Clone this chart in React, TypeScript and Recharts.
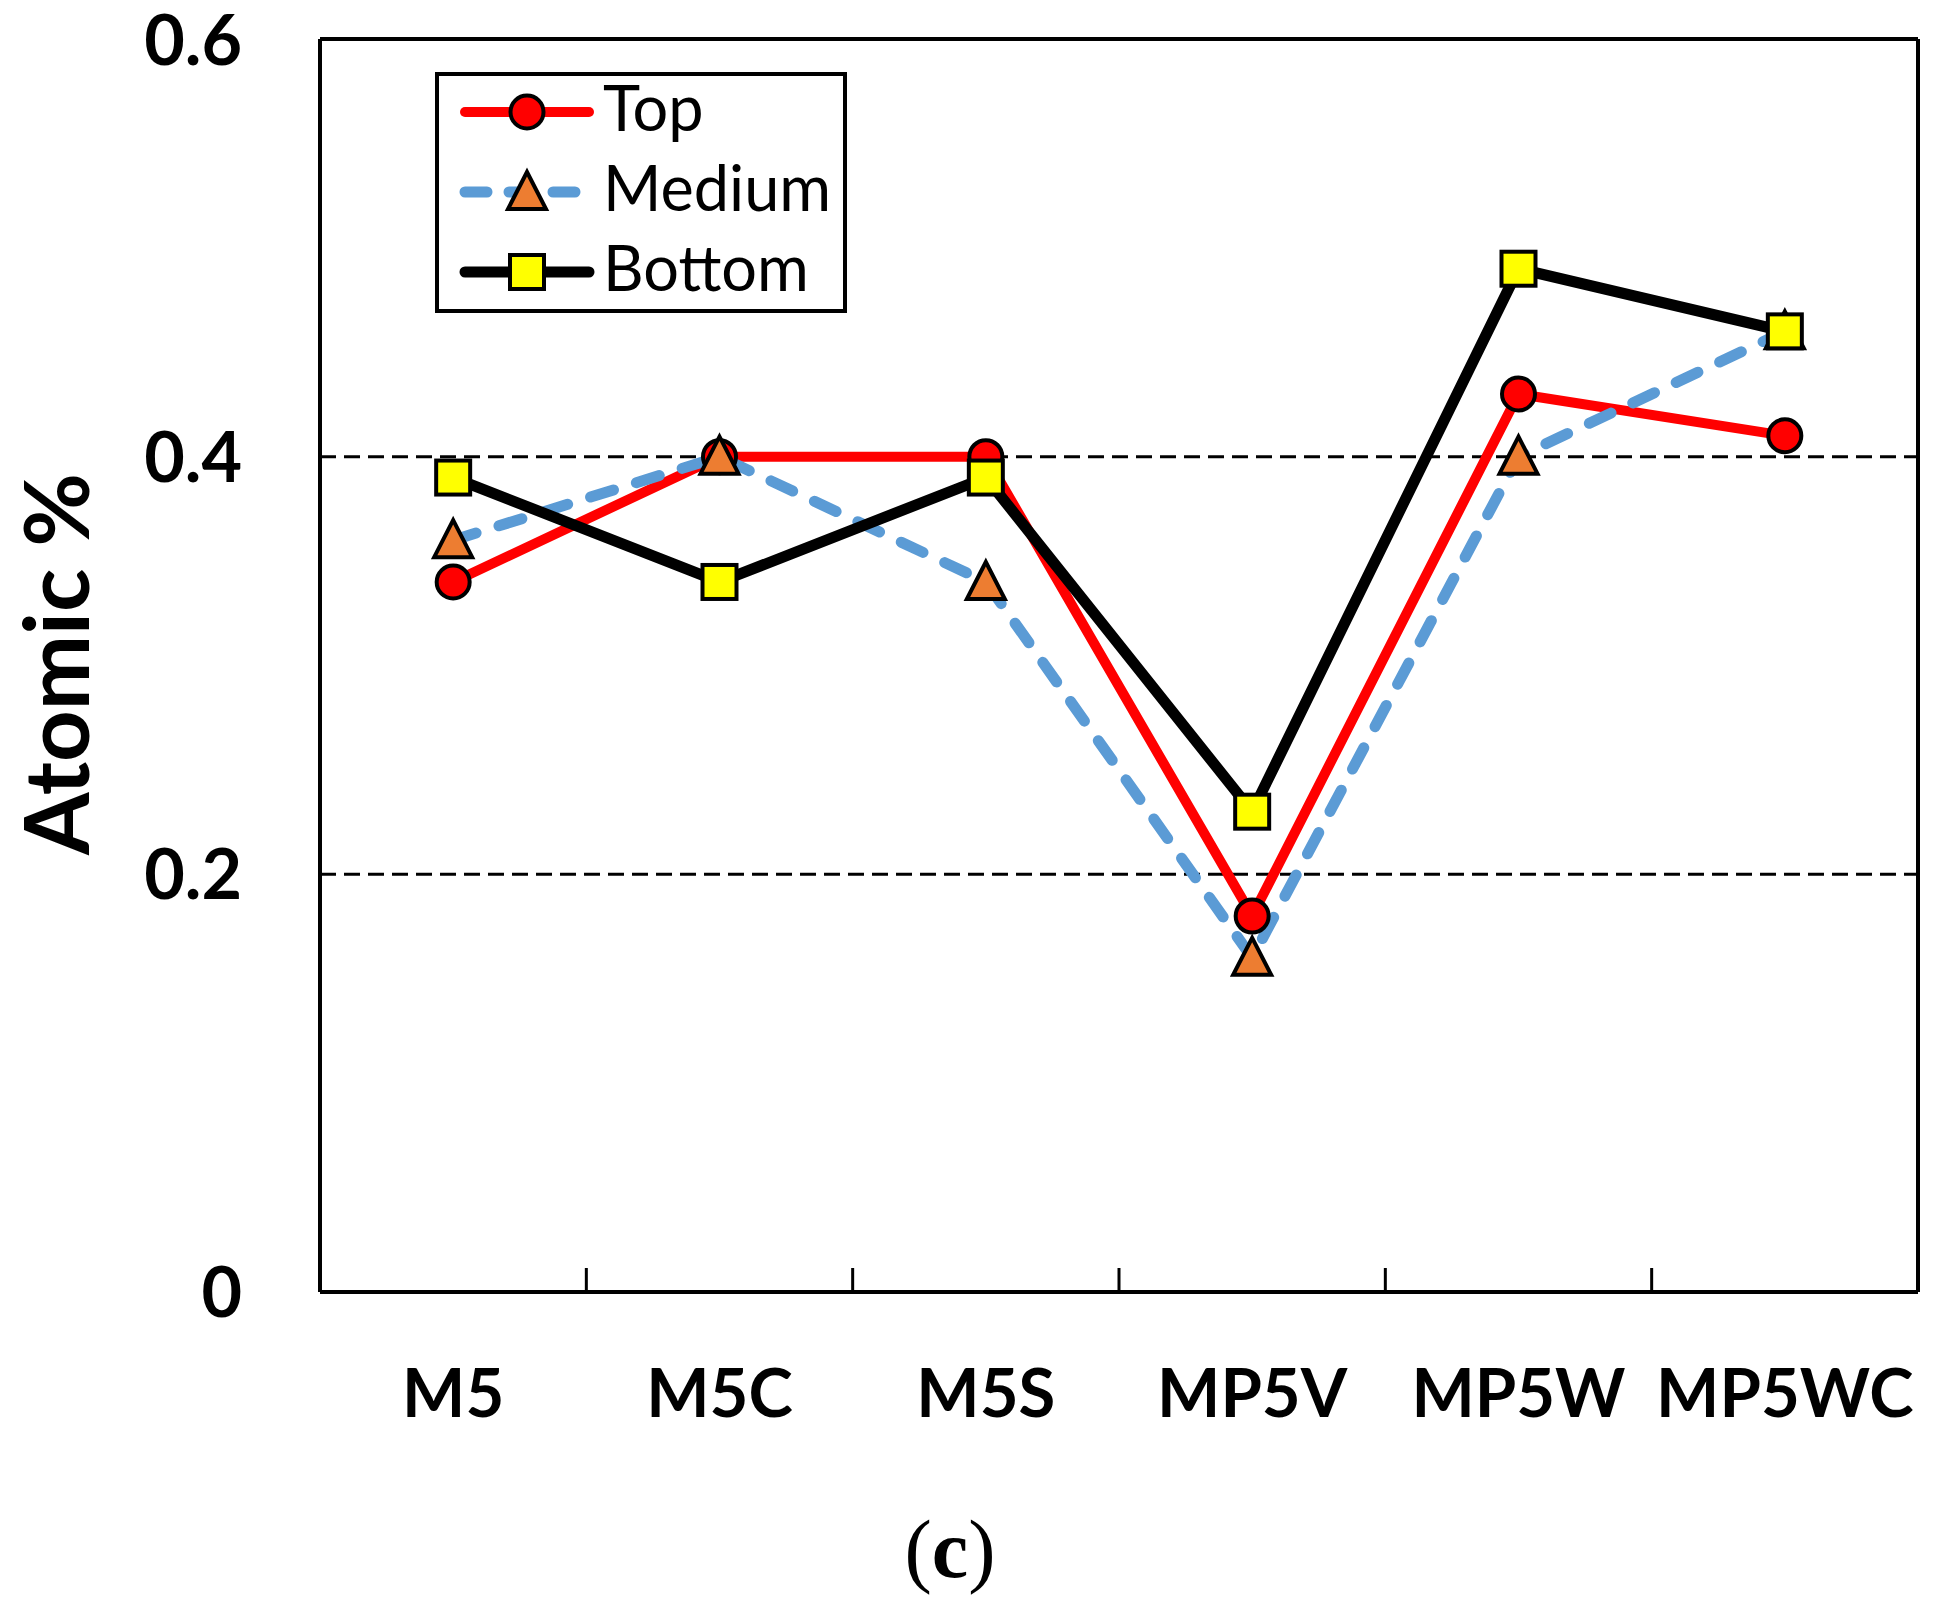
import React from "react";
import {
  LineChart,
  Line,
  XAxis,
  YAxis,
  CartesianGrid,
  ReferenceLine,
  Legend,
  Customized,
} from "recharts";

document.body.style.margin = "0";

const categories = ["M5", "M5C", "M5S", "MP5V", "MP5W", "MP5WC"];
const topValues = [0.34, 0.4, 0.4, 0.18, 0.43, 0.41];
const mediumValues = [0.36, 0.4, 0.34, 0.16, 0.4, 0.46];
const bottomValues = [0.39, 0.34, 0.39, 0.23, 0.49, 0.46];
const yTicks = [0, 0.2, 0.4, 0.6];

const data = categories.map((name, i) => ({
  name,
  top: topValues[i],
  medium: mediumValues[i],
  bottom: bottomValues[i],
}));

const FONT = "Lato, 'Open Sans', sans-serif";
const RED = "#FF0000";
const BLUE = "#5B9BD5";
const ORANGE = "#ED7D31";
const YELLOW = "#FFFF00";
const X_TICK_MARGIN = 77;

function circleMark(cx: number, cy: number, key?: string) {
  return (
    <circle key={key} cx={cx} cy={cy} r={16.5} fill={RED} stroke="#000" strokeWidth={4} />
  );
}

function triangleMark(cx: number, cy: number, key?: string) {
  return (
    <path
      key={key}
      d={`M ${cx} ${cy - 20} L ${cx + 19} ${cy + 17} L ${cx - 19} ${cy + 17} Z`}
      fill={ORANGE}
      stroke="#000"
      strokeWidth={4}
    />
  );
}

function squareMark(cx: number, cy: number, key?: string) {
  return (
    <rect
      key={key}
      x={cx - 17}
      y={cy - 17}
      width={34}
      height={34}
      fill={YELLOW}
      stroke="#000"
      strokeWidth={4}
    />
  );
}

const dotFor = (mark: typeof circleMark) => (p: any) =>
  p.cx == null || p.cy == null ? <g key={p.index} /> : mark(p.cx, p.cy, String(p.index));

// category label plus a short inward tick on the band's left edge (Excel style)
function CategoryTick(props: any) {
  const { x, y, payload, index } = props;
  const half = payload && typeof payload.offset === "number" ? payload.offset : 0;
  const axisY = y - X_TICK_MARGIN;
  return (
    <g>
      {index > 0 && half > 0 && (
        <line x1={x - half} x2={x - half} y1={axisY - 24} y2={axisY} stroke="#000" strokeWidth={3} />
      )}
      <text
        x={x}
        y={y}
        dy="0.71em"
        textAnchor="middle"
        fill="#000"
        fontFamily={FONT}
        fontWeight={700}
        fontSize={67}
      >
        {payload.value}
      </text>
    </g>
  );
}

const legendRows = [
  { label: "Top", color: RED, width: 10, dash: undefined, mark: circleMark },
  { label: "Medium", color: BLUE, width: 11, dash: "22 22", mark: triangleMark },
  { label: "Bottom", color: "#000", width: 11, dash: undefined, mark: squareMark },
];

function LegendBox() {
  return (
    <svg width={412} height={241} style={{ display: "block", overflow: "visible" }}>
      <rect x={2} y={2} width={408} height={237} fill="#fff" stroke="#000" strokeWidth={4} />
      {legendRows.map((row, i) => {
        const y = 40 + i * 80;
        return (
          <g key={row.label}>
            <line
              x1={30}
              x2={154}
              y1={y}
              y2={y}
              stroke={row.color}
              strokeWidth={row.width}
              strokeDasharray={row.dash}
              strokeLinecap="round"
            />
            {row.mark(92, y)}
            <text x={168} y={y + 19} fontFamily={FONT} fontSize={63} fill="#000">
              {row.label}
            </text>
          </g>
        );
      })}
    </svg>
  );
}

function Labels() {
  return (
    <g>
      <text
        transform="translate(89,664) rotate(-90)"
        textAnchor="middle"
        fontFamily={FONT}
        fontWeight={700}
        fontSize={90}
        fill="#000"
      >
        Atomic %
      </text>
      <text
        x={950}
        y={1577}
        textAnchor="middle"
        fontFamily="'Liberation Serif', 'DejaVu Serif', serif"
        fontSize={82}
        fill="#000"
      >
        (<tspan fontWeight={700}>c</tspan>)
      </text>
    </g>
  );
}

export default function App() {
  return (
    <div style={{ width: 1945, height: 1605, background: "#fff" }}>
      <LineChart
        width={1945}
        height={1605}
        data={data}
        margin={{ top: 39, right: 27, bottom: 0, left: 0 }}
      >
        <CartesianGrid
          vertical={false}
          stroke="#000"
          strokeWidth={3}
          strokeDasharray="16 8"
        />
        <XAxis
          dataKey="name"
          scale="band"
          height={313}
          tickLine={false}
          tickSize={0}
          tickMargin={X_TICK_MARGIN}
          axisLine={{ stroke: "#000", strokeWidth: 4 }}
          tick={CategoryTick}
          interval={0}
        />
        <YAxis
          width={320}
          domain={[0, 0.6]}
          ticks={yTicks}
          tickLine={false}
          tickSize={0}
          tickMargin={78}
          axisLine={{ stroke: "#000", strokeWidth: 4 }}
          tickFormatter={(v: number) => String(v)}
          tick={{ fill: "#000", fontFamily: FONT, fontWeight: 700, fontSize: 70 }}
        />
        <ReferenceLine y={0.6} stroke="#000" strokeWidth={4} />
        <ReferenceLine
          x={categories[categories.length - 1]}
          position="end"
          stroke="#000"
          strokeWidth={4}
        />
        <Line
          dataKey="top"
          stroke={RED}
          strokeWidth={10}
          strokeLinejoin="round"
          dot={dotFor(circleMark)}
          activeDot={false}
          isAnimationActive={false}
        />
        <Line
          dataKey="medium"
          stroke={BLUE}
          strokeWidth={11}
          strokeDasharray="24 24"
          strokeLinecap="round"
          strokeLinejoin="round"
          dot={dotFor(triangleMark)}
          activeDot={false}
          isAnimationActive={false}
        />
        <Line
          dataKey="bottom"
          stroke="#000"
          strokeWidth={11}
          strokeLinejoin="round"
          dot={dotFor(squareMark)}
          activeDot={false}
          isAnimationActive={false}
        />
        <Legend
          layout="vertical"
          align="center"
          verticalAlign="middle"
          content={() => <LegendBox />}
          wrapperStyle={{ left: 435, top: 72, width: 412, height: 241 }}
        />
        <Customized component={<Labels />} />
      </LineChart>
    </div>
  );
}
